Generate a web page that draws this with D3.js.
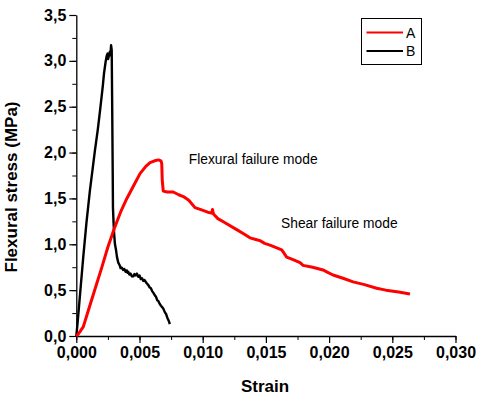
<!DOCTYPE html>
<html><head><meta charset="utf-8">
<script src="https://cdn.jsdelivr.net/npm/d3@7"></script>
<style>body{margin:0;background:#fff}svg{display:block}</style>
</head><body>
<svg id="c" width="480" height="396"></svg>
<script>
const xTicks = [0, 0.005, 0.010, 0.015, 0.020, 0.025, 0.030];
const yTicks = [0, 0.5, 1.0, 1.5, 2.0, 2.5, 3.0, 3.5];
const seriesNames = ["A", "B"];
const seriesColors = ["#ff0000", "#000000"];
const strainA = [0,0.00015,0.00029,0.00055,0.001,0.0015,0.002,0.0025,0.003,0.0035,0.004,0.0045,0.00504,0.0055,0.00583,0.0062,0.0065,0.0067,0.00676,0.0068,0.00688,0.0072,0.00767,0.0081,0.00847,0.0089,0.00939,0.0098,0.0104,0.01071,0.01078,0.01085,0.0112,0.0117,0.01269,0.0133,0.01374,0.01427,0.01453,0.0149,0.01532,0.01625,0.01645,0.01664,0.0172,0.0177,0.01794,0.0187,0.01952,0.01981,0.02031,0.0211,0.0219,0.0228,0.02376,0.0245,0.0255,0.0264];
const stressA = [0,0.02,0.047,0.10,0.30,0.52,0.74,0.97,1.17,1.35,1.50,1.63,1.77,1.85,1.89,1.91,1.92,1.91,1.88,1.70,1.58,1.57,1.57,1.54,1.52,1.48,1.40,1.38,1.35,1.34,1.38,1.33,1.28,1.24,1.16,1.11,1.07,1.05,1.04,1.01,0.99,0.94,0.90,0.86,0.83,0.80,0.77,0.75,0.72,0.70,0.665,0.63,0.59,0.56,0.52,0.50,0.48,0.458];
const strainB = [0,0.0001,0.0003,0.00055,0.0008,0.00108,0.0013,0.00148,0.0017,0.00188,0.0021,0.00219,0.00232,0.0024,0.00248,0.00252,0.0026,0.00266,0.0027,0.00275,0.0028,0.00284,0.00288,0.0029,0.00295,0.003,0.00306,0.00314,0.00322,0.00332,0.0034,0.00346,0.0035,0.0036,0.0037,0.0038,0.0039,0.004,0.00405,0.00411,0.0042,0.0043,0.0044,0.00451,0.0046,0.0047,0.0048,0.0049,0.005,0.0051,0.0052,0.0053,0.0054,0.00557,0.0057,0.0058,0.0059,0.006,0.0061,0.00623,0.0063,0.0064,0.0065,0.0066,0.0067,0.00688,0.007,0.0071,0.0072,0.0073,0.0074];
const stressB = [0,0.14,0.46,0.86,1.23,1.59,1.83,2.03,2.25,2.46,2.73,2.86,2.99,3.05,3.08,3.02,3.07,3.10,3.06,3.17,3.12,2.5,1.8,1.4,1.23,1.10,1.00,0.94,0.86,0.80,0.78,0.76,0.74,0.745,0.72,0.73,0.70,0.715,0.69,0.70,0.67,0.68,0.65,0.65,0.675,0.66,0.68,0.645,0.66,0.62,0.63,0.60,0.61,0.575,0.555,0.53,0.52,0.49,0.47,0.44,0.43,0.39,0.38,0.35,0.33,0.30,0.26,0.24,0.20,0.17,0.13];
const xTitle = "Strain";
const yTitle = "Flexural stress (MPa)";
const notes = ["Flexural failure mode", "Shear failure mode"];
const noteStrain = [0.0089, 0.0162];
const noteStress = [1.87, 1.18];

const svg = d3.select("#c");
const x = d3.scaleLinear().domain([0, 0.030]).range([76.3, 455.5]);
const y = d3.scaleLinear().domain([0, 3.5]).range([336, 15]);
const fmtX = d => d3.format(".3f")(d).replace(".", ",");
const fmtY = d => d3.format(".1f")(d).replace(".", ",");

// minor ticks
const xMinor = d3.range(0, 0.0301, 0.0025);
const yMinor = d3.range(0, 3.51, 0.25);
svg.append("g").attr("transform","translate(0,336)")
  .call(d3.axisBottom(x).tickValues(xMinor).tickSize(4).tickFormat(""))
  .call(g=>g.select(".domain").remove())
  .selectAll("line").attr("stroke","#000");
svg.append("g").attr("transform","translate(76.3,0)")
  .call(d3.axisLeft(y).tickValues(yMinor).tickSize(4).tickFormat(""))
  .call(g=>g.select(".domain").remove())
  .selectAll("line").attr("stroke","#000");

const gx = svg.append("g").attr("transform","translate(0,336)")
  .call(d3.axisBottom(x).tickValues(xTicks).tickSize(7).tickSizeOuter(0).tickPadding(4).tickFormat(fmtX));
gx.select(".domain").attr("stroke","#000").attr("stroke-width",1.3);
gx.selectAll("line").attr("stroke","#000").attr("stroke-width",1.2);
gx.selectAll("text").attr("font-family","'Liberation Sans',Arial,sans-serif").attr("font-size","16px").attr("font-weight","bold").attr("fill","#000");

const gy = svg.append("g").attr("transform","translate(76.3,0)")
  .call(d3.axisLeft(y).tickValues(yTicks).tickSize(7).tickSizeOuter(0).tickPadding(3).tickFormat(fmtY));
gy.select(".domain").attr("stroke","#000").attr("stroke-width",1.3);
gy.selectAll("line").attr("stroke","#000").attr("stroke-width",1.2);
gy.selectAll("text").attr("font-family","'Liberation Sans',Arial,sans-serif").attr("font-size","16px").attr("font-weight","bold").attr("fill","#000");

const line = d3.line().x(d=>x(d[0])).y(d=>y(d[1]));
const dataA = strainA.map((s,i)=>[s, stressA[i]]);
const dataB = strainB.map((s,i)=>[s, stressB[i]]);
svg.append("path").datum(dataB).attr("d",line).attr("fill","none").attr("stroke",seriesColors[1]).attr("stroke-width",2.4).attr("stroke-linejoin","round");
svg.append("path").datum(dataA).attr("d",line).attr("fill","none").attr("stroke",seriesColors[0]).attr("stroke-width",3).attr("stroke-linejoin","round");

// titles
svg.append("text").attr("x",265).attr("y",392).attr("text-anchor","middle")
  .attr("font-family","'Liberation Sans',Arial,sans-serif").attr("font-size","17px").attr("font-weight","bold").text(xTitle);
svg.append("text").attr("transform","translate(17,187) rotate(-90)").attr("text-anchor","middle")
  .attr("font-family","'Liberation Sans',Arial,sans-serif").attr("font-size","17px").attr("font-weight","bold").text(yTitle);

// notes
notes.forEach((t,i)=>{
  svg.append("text").attr("x",x(noteStrain[i])).attr("y",y(noteStress[i]))
    .attr("font-family","'Liberation Sans',Arial,sans-serif").attr("font-size","13.8px").attr("fill","#000").text(t);
});

// legend
const lg = svg.append("g");
lg.append("rect").attr("x",361.5).attr("y",18.5).attr("width",60).attr("height",46).attr("fill","#fff").attr("stroke","#000").attr("stroke-width",1);
seriesNames.forEach((n,i)=>{
  const yy = 32.5 + i*18.5;
  lg.append("line").attr("x1",366.5).attr("x2",403).attr("y1",yy).attr("y2",yy).attr("stroke",seriesColors[i]).attr("stroke-width",2.2);
  lg.append("text").attr("x",406).attr("y",yy+5).attr("font-family","'Liberation Sans',Arial,sans-serif").attr("font-size","14px").text(n);
});
</script>
</body></html>
